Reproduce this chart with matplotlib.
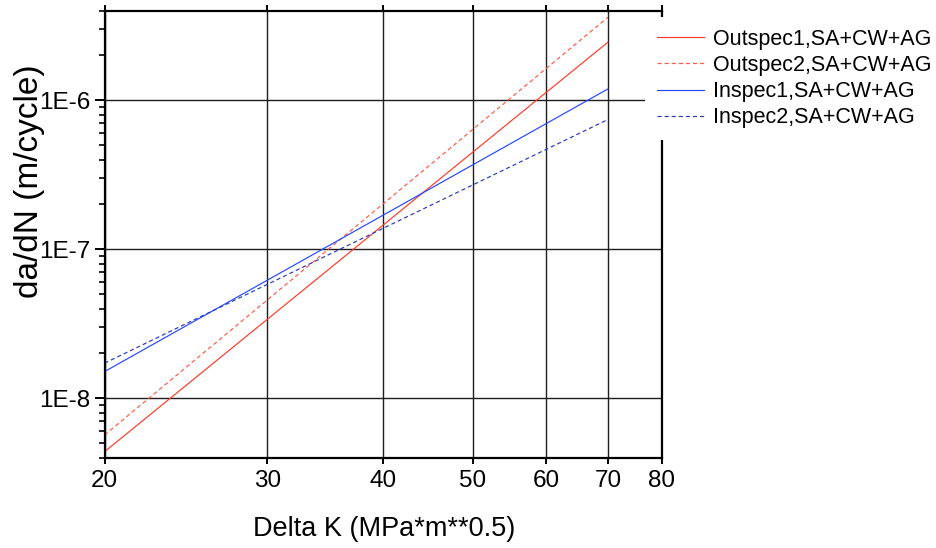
import matplotlib
matplotlib.use("Agg")
import matplotlib.pyplot as plt
from matplotlib.ticker import FixedLocator, FixedFormatter, LogLocator, NullLocator, NullFormatter

plt.rcParams['font.family'] = ['Liberation Sans', 'DejaVu Sans']

# ---- data (Paris-law lines, endpoints) ----
delta_k = [20, 70]
outspec1 = [4.38e-9, 2.45e-6]
outspec2 = [5.67e-9, 3.60e-6]
inspec1 = [1.51e-8, 1.19e-6]
inspec2 = [1.72e-8, 7.42e-7]
series_labels = ["Outspec1,SA+CW+AG", "Outspec2,SA+CW+AG",
                 "Inspec1,SA+CW+AG", "Inspec2,SA+CW+AG"]

xtick_values = [20, 30, 40, 50, 60, 70, 80]
xtick_labels = ["20", "30", "40", "50", "60", "70", "80"]
ytick_values = [1e-8, 1e-7, 1e-6]
ytick_labels = ["1E-8", "1E-7", "1E-6"]
xlim = (20, 80)
ylim = (4e-9, 4e-6)

fig = plt.figure(figsize=(9.37, 5.48), dpi=100)
ax = fig.add_axes([104.5/937, 1-457.6/548, (661.5-104.5)/937, (457.6-10.5)/548])

ax.set_xscale('log')
ax.set_yscale('log')
ax.set_xlim(*xlim)
ax.set_ylim(*ylim)

lw = 0.85
ax.plot(delta_k, outspec1, color='#ff3a28', lw=lw, label=series_labels[0])
ax.plot(delta_k, outspec2, color='#ff5a45', lw=lw, ls=(0, (3.5, 2.5)), label=series_labels[1])
ax.plot(delta_k, inspec1, color='#2448ff', lw=lw, label=series_labels[2])
ax.plot(delta_k, inspec2, color='#2838c0', lw=lw, ls=(0, (3.5, 2.5)), label=series_labels[3])

ax.xaxis.set_major_locator(FixedLocator(xtick_values))
ax.xaxis.set_major_formatter(FixedFormatter(xtick_labels))
ax.xaxis.set_minor_locator(NullLocator())
ax.xaxis.set_minor_formatter(NullFormatter())
ax.yaxis.set_major_locator(FixedLocator(ytick_values))
ax.yaxis.set_major_formatter(FixedFormatter(ytick_labels))
ax.yaxis.set_minor_locator(LogLocator(base=10, subs=[2, 3, 4, 5, 6, 7, 8, 9], numticks=20))
ax.yaxis.set_minor_formatter(NullFormatter())

ax.grid(True, which='major', color='#1e1e1e', lw=1.0)
ax.set_axisbelow(True)

for s in ax.spines.values():
    s.set_linewidth(1.6)
    s.set_color('black')

ax.tick_params(axis='x', which='major', direction='out', length=4, width=1.4,
               top=True, bottom=True, labelsize=17.5, pad=5)
ax.tick_params(axis='y', which='major', direction='out', length=7, width=1.4,
               left=True, right=False, labelsize=17.5, pad=3)
ax.tick_params(axis='y', which='minor', direction='out', length=4.5, width=1.2,
               left=True, right=False)

fig.text(384.5/937, 1-535.7/548, "Delta K (MPa*m**0.5)", fontsize=19.5,
         ha='center', va='baseline')
fig.text(30/937, 1-181.5/548, "da/dN (m/cycle)", fontsize=24,
         ha='center', va='center', rotation=90)

leg = ax.legend(loc='upper left', bbox_to_anchor=(645/937, 1-17/548),
                bbox_transform=fig.transFigure, fontsize=15.5, frameon=True,
                facecolor='white', edgecolor='none', framealpha=1,
                borderaxespad=0, borderpad=0.55, handlelength=2.2,
                handletextpad=0.4, labelspacing=0.24, fancybox=False)
leg.set_zorder(10)

fig.savefig("out.png", dpi=100)
